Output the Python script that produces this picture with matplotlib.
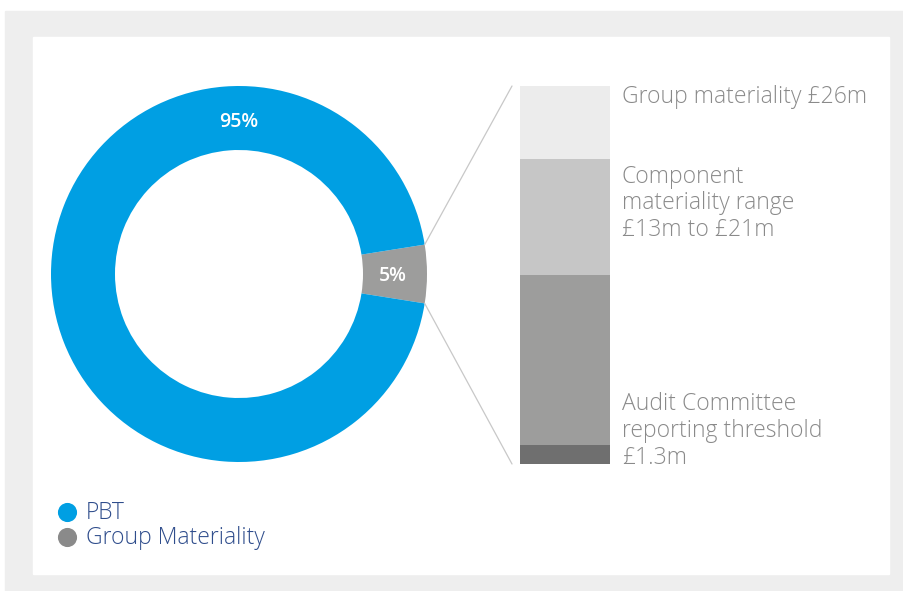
import numpy as np
import matplotlib
matplotlib.use('Agg')
import matplotlib.pyplot as plt
from matplotlib.patches import Rectangle, ConnectionPatch

# donut: share of PBT
pie_labels = ['Group Materiality', 'PBT']
pie_values = [5, 95]
pie_colors = ['#9d9d9c', '#009fe3']

# materiality bar, boundaries in £m
bar_bounds = [0, 1.3, 13, 21, 26]
bar_colors = ['#6f6f6f', '#9d9d9c', '#c6c6c6', '#ececec']
bar_texts = ['Group materiality £26m',
             'Component\nmateriality range\n£13m to £21m',
             'Audit Committee\nreporting threshold\n£1.3m']

W, H = 904, 591
fig = plt.figure(figsize=(W / 100, H / 100), dpi=100)
fig.patch.set_facecolor('white')

def px(x0, y0, w, h):
    # pixel box (top-left origin) -> figure fraction rect
    return [x0 / W, (H - y0 - h) / H, w / W, h / H]

# grey frame and white panel
fig.patches.append(Rectangle((5 / W, 0), 1, (H - 11) / H, transform=fig.transFigure,
                             color='#eeeeee', zorder=-10))
fig.patches.append(Rectangle((33 / W, (H - 574) / H), (889 - 33) / W, (574 - 37) / H,
                             transform=fig.transFigure, color='white', zorder=-9))

font = 'Open Sans'

# donut
ax = fig.add_axes(px(51, 86, 376, 376))
ring = 64 / 188
half = pie_values[0] / sum(pie_values) * 180
wedges, _ = ax.pie(pie_values, colors=pie_colors, radius=1, startangle=-half,
                   counterclock=True, wedgeprops=dict(width=ring, linewidth=0))
ax.set_xlim(-1, 1)
ax.set_ylim(-1, 1)
ax.axis('off')
mid_r = 1 - ring / 2
ax.text(mid_r * 0.985, -0.01, '%d%%' % pie_values[0], color='white', fontsize=14,
        fontweight='semibold', ha='center', va='center', family=font)
ax.text(0, mid_r * 0.975, '%d%%' % pie_values[1], color='white', fontsize=14,
        fontweight='semibold', ha='center', va='center', family=font)

# stacked bar
bx = fig.add_axes(px(520, 86, 90, 378))
for i in range(len(bar_colors)):
    bx.bar(0.5, bar_bounds[i + 1] - bar_bounds[i], bottom=bar_bounds[i], width=1,
           color=bar_colors[i], linewidth=0)
bx.set_xlim(0, 1)
bx.set_ylim(0, bar_bounds[-1])
bx.axis('off')

# lines from the small slice to the bar
a = np.radians(half)
for sgn, yb in [(1, bar_bounds[-1]), (-1, bar_bounds[0])]:
    con = ConnectionPatch(xyA=(np.cos(a), sgn * np.sin(a)), coordsA=ax.transData,
                          xyB=(-8 / 90, yb), coordsB=bx.get_yaxis_transform(),
                          color='#c8c8c8', linewidth=0.9)
    fig.add_artist(con)

tx = 102 / 90
tr = bx.get_yaxis_transform()
tkw = dict(color='#8a8a8a', fontsize=16.5, fontweight='light', family=font,
           linespacing=1.16, ha='left', transform=tr)
bx.text(tx, bar_bounds[4] + 0.1, bar_texts[0], va='top', **tkw)
bx.text(tx, bar_bounds[3] - 0.4, bar_texts[1], va='top', **tkw)
bx.text(tx, bar_bounds[0] - 0.4, bar_texts[2], va='bottom', **tkw)

# legend
lx = fig.add_axes(px(33, 490, 400, 70))
lx.set_xlim(0, 400)
lx.set_ylim(70, 0)
lx.axis('off')
for i, (lab, col) in enumerate([(pie_labels[1], pie_colors[1]), ('Group Materiality', '#8a8a8a')]):
    y = 22 + 25 * i
    lx.scatter(34, y, s=190, color=col, linewidth=0)
    lx.text(53, y + 1, lab, color='#2f4d8c', fontsize=16.5, fontweight='light',
            family=font, va='center', ha='left')

fig.savefig('out.png', dpi=100)
